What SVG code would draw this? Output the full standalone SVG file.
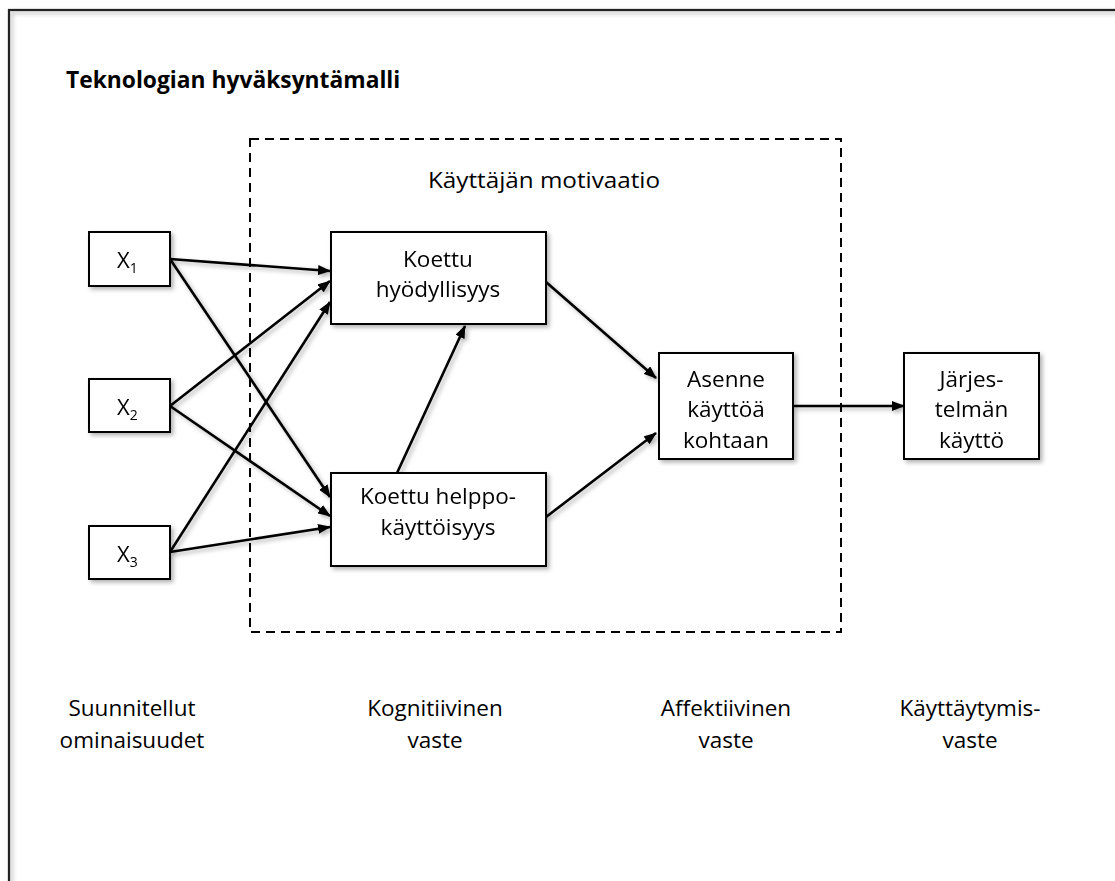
<svg xmlns="http://www.w3.org/2000/svg" width="1115" height="881" viewBox="0 0 1115 881">
  <style>
    .box { fill: #ffffff; stroke: #000000; stroke-width: 2; }
    .lbl { font-family: "Open Sans", "Liberation Sans", sans-serif; font-size: 22.5px; fill: #000000; text-anchor: middle; }
    .xl { font-family: "Open Sans", "Liberation Sans", sans-serif; font-size: 22px; fill: #000000; }
    .conn { stroke: #000000; stroke-width: 2.6; fill: none; marker-end: url(#arrow); }
  </style>
  <defs>
    <marker id="arrow" markerUnits="userSpaceOnUse" markerWidth="13" markerHeight="10" refX="12" refY="5" orient="auto">
      <path d="M0,0 L13,5 L0,10 z" fill="#000000"/>
    </marker>
    <filter id="sh" x="-20%" y="-20%" width="140%" height="140%">
      <feDropShadow dx="2.5" dy="2.5" stdDeviation="2" flood-color="#000000" flood-opacity="0.3"/>
    </filter>
  </defs>

  <rect width="1115" height="881" fill="#ffffff"/>
  <rect x="9" y="10" width="1200" height="1000" fill="none" stroke="#222222" stroke-width="2.2" filter="url(#sh)"/>

  <text x="66" y="88" font-family="'Open Sans', 'Liberation Sans', sans-serif" font-size="22.8" font-weight="bold" fill="#000000">Teknologian hyväksyntämalli</text>

  <g id="motivation-frame">
    <rect x="250" y="139" width="591" height="493" fill="none" stroke="#000000" stroke-width="2" stroke-dasharray="9 6"/>
    <text class="lbl" x="544" y="188" font-size="25" textLength="232" lengthAdjust="spacingAndGlyphs">Käyttäjän motivaatio</text>
  </g>

  <g id="connectors" filter="url(#sh)">
    <line class="conn" x1="170" y1="259" x2="330" y2="271"/>
    <line class="conn" x1="170" y1="259" x2="330" y2="497"/>
    <line class="conn" x1="170" y1="406" x2="330" y2="281"/>
    <line class="conn" x1="170" y1="406" x2="330" y2="516"/>
    <line class="conn" x1="170" y1="552" x2="330" y2="302"/>
    <line class="conn" x1="170" y1="552" x2="330" y2="527"/>
    <line class="conn" x1="397" y1="473" x2="465" y2="326"/>
    <line class="conn" x1="546" y1="282" x2="656" y2="378"/>
    <line class="conn" x1="546" y1="517" x2="656" y2="433"/>
    <line class="conn" x1="793" y1="406" x2="904" y2="406"/>
  </g>

  <g id="x1" filter="url(#sh)">
    <rect class="box" x="89" y="232" width="81" height="54"/>
    <text class="xl" x="117" y="268">X<tspan font-size="14" dy="5">1</tspan></text>
  </g>
  <g id="x2" filter="url(#sh)">
    <rect class="box" x="89" y="379" width="81" height="53"/>
    <text class="xl" x="117" y="415">X<tspan font-size="14" dy="5">2</tspan></text>
  </g>
  <g id="x3" filter="url(#sh)">
    <rect class="box" x="89" y="526" width="81" height="53"/>
    <text class="xl" x="117" y="562">X<tspan font-size="14" dy="5">3</tspan></text>
  </g>

  <g id="usefulness" filter="url(#sh)">
    <rect class="box" x="331" y="232" width="215" height="92"/>
    <text class="lbl" x="438" y="267">Koettu</text>
    <text class="lbl" x="438" y="297">hyödyllisyys</text>
  </g>
  <g id="ease-of-use" filter="url(#sh)">
    <rect class="box" x="331" y="473" width="215" height="93"/>
    <text class="lbl" x="438" y="504">Koettu helppo-</text>
    <text class="lbl" x="438" y="535">käyttöisyys</text>
  </g>
  <g id="attitude" filter="url(#sh)">
    <rect class="box" x="659" y="353" width="134" height="106"/>
    <text class="lbl" x="726" y="387">Asenne</text>
    <text class="lbl" x="726" y="417">käyttöä</text>
    <text class="lbl" x="726" y="448">kohtaan</text>
  </g>
  <g id="system-use" filter="url(#sh)">
    <rect class="box" x="904" y="353" width="135" height="106"/>
    <text class="lbl" x="971.5" y="387">Järjes-</text>
    <text class="lbl" x="971.5" y="417">telmän</text>
    <text class="lbl" x="971.5" y="448">käyttö</text>
  </g>

  <g id="bottom-labels">
    <text class="lbl" x="132" y="716">Suunnitellut</text>
    <text class="lbl" x="132" y="748">ominaisuudet</text>
    <text class="lbl" x="435" y="716">Kognitiivinen</text>
    <text class="lbl" x="435" y="748">vaste</text>
    <text class="lbl" x="726" y="716">Affektiivinen</text>
    <text class="lbl" x="726" y="748">vaste</text>
    <text class="lbl" x="970" y="716">Käyttäytymis-</text>
    <text class="lbl" x="970" y="748">vaste</text>
  </g>
</svg>
